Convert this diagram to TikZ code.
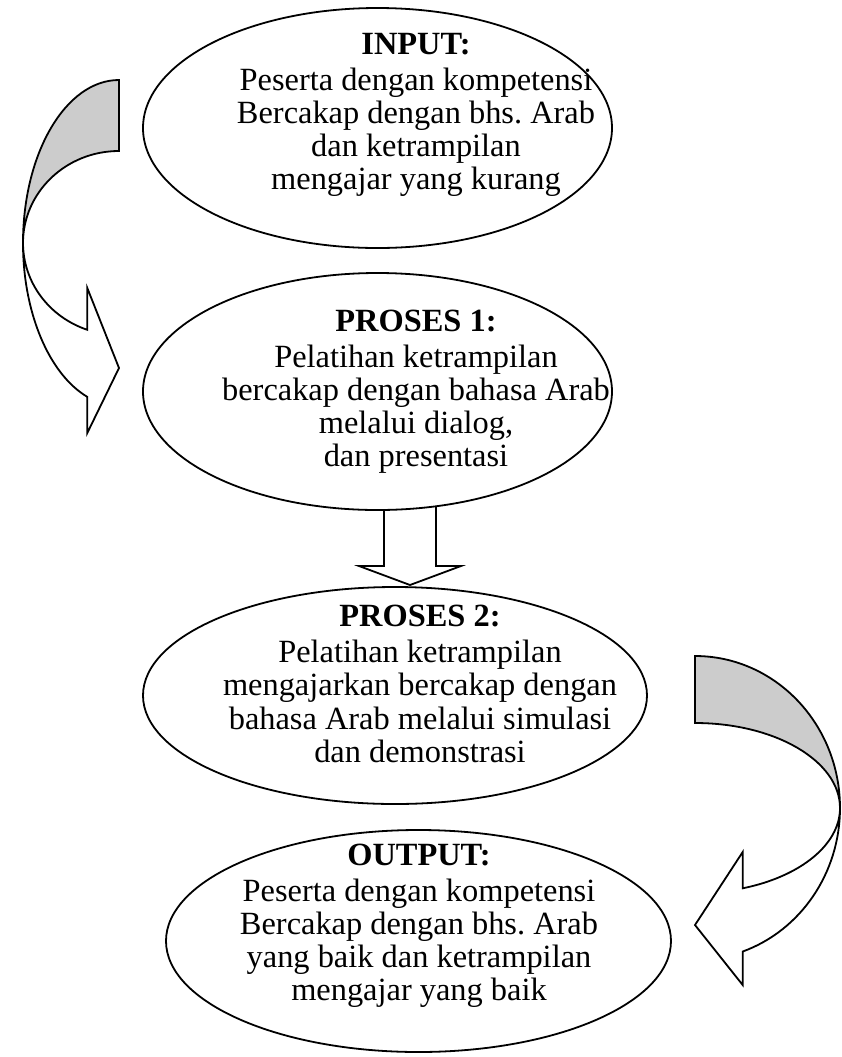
\documentclass[tikz,border=0pt]{standalone}
\usepackage{fontspec}
\setmainfont{Liberation Serif}
\usetikzlibrary{shapes.geometric}
\frenchspacing

\tikzset{
  bubble/.style={ellipse, draw, fill=white, line width=0.9pt, inner sep=0pt, outer sep=0pt},
  bubbletext/.style={align=center, inner sep=0pt, font=\fontsize{16.2}{16.6}\selectfont},
  blockarrow/.style={draw, fill=white, line width=0.9pt, line join=miter},
  backside/.style={draw, fill=black!20, line width=0.9pt}
}

\begin{document}
\begin{tikzpicture}[x=0.5pt, y=0.5pt]
  \useasboundingbox (0,0) rectangle (842,-1057);

  % Curved arrow, left
  \draw[backside] (119,-80) arc[start angle=90, end angle=180, x radius=96, y radius=163]
    arc[start angle=180, end angle=90, x radius=96, y radius=92] -- cycle;
  \draw[blockarrow] (23,-243) arc[start angle=180, end angle=250.7, x radius=96, y radius=163]
    -- (87.3,-433) -- (119,-368) -- (87.3,-288) -- (87.3,-329.8)
    arc[start angle=250.7, end angle=180, x radius=96, y radius=92] -- cycle;

  % Curved arrow, right
  \draw[backside] (695,-656) arc[start angle=90, end angle=0, x radius=145, y radius=152]
    arc[start angle=0, end angle=90, x radius=145, y radius=85] -- cycle;
  \draw[blockarrow] (840,-808) arc[start angle=0, end angle=-70.8, x radius=145, y radius=152]
    -- (742.7,-985) -- (695,-925) -- (742.7,-852) -- (742.7,-888.3)
    arc[start angle=-70.8, end angle=0, x radius=145, y radius=85] -- cycle;

  % Straight arrow
  \draw[blockarrow] (384,-505) -- (384,-566) -- (359,-566) -- (410,-585)
    -- (461,-566) -- (436,-566) -- (436,-505) -- cycle;

  % Nodes
  \node[bubble, minimum width=234.5pt, minimum height=120pt] (input) at (377.5,-128) {};
  \node[bubble, minimum width=234.5pt, minimum height=118.5pt] (proses1) at (377.5,-391.5) {};
  \node[bubble, minimum width=252pt, minimum height=108.5pt] (proses2) at (395,-695.5) {};
  \node[bubble, minimum width=252.5pt, minimum height=111pt] (output) at (418.5,-941) {};

  % Texts
  \node[bubbletext] (inputtxt) at (416,-115) {\textbf{INPUT:}\\[1.25pt]
    Peserta dengan kompetensi\\ Bercakap dengan bhs. Arab\\ dan ketrampilan\\ mengajar yang kurang};
  \node[bubbletext] (proses1txt) at (416,-392) {\textbf{PROSES 1:}\\[1.25pt]
    Pelatihan ketrampilan\\ bercakap dengan bahasa Arab\\ melalui dialog,\\ dan presentasi};
  \node[bubbletext] (proses2txt) at (420,-684) {\textbf{PROSES 2:}\\[1.25pt]
    Pelatihan ketrampilan\\ mengajarkan bercakap dengan\\ bahasa Arab melalui simulasi\\ dan demonstrasi};
  \node[bubbletext] (outputtxt) at (419,-926) {\textbf{OUTPUT:}\\[1.25pt]
    Peserta dengan kompetensi\\ Bercakap dengan bhs. Arab\\ yang baik dan ketrampilan\\ mengajar yang baik};
\end{tikzpicture}
\end{document}
